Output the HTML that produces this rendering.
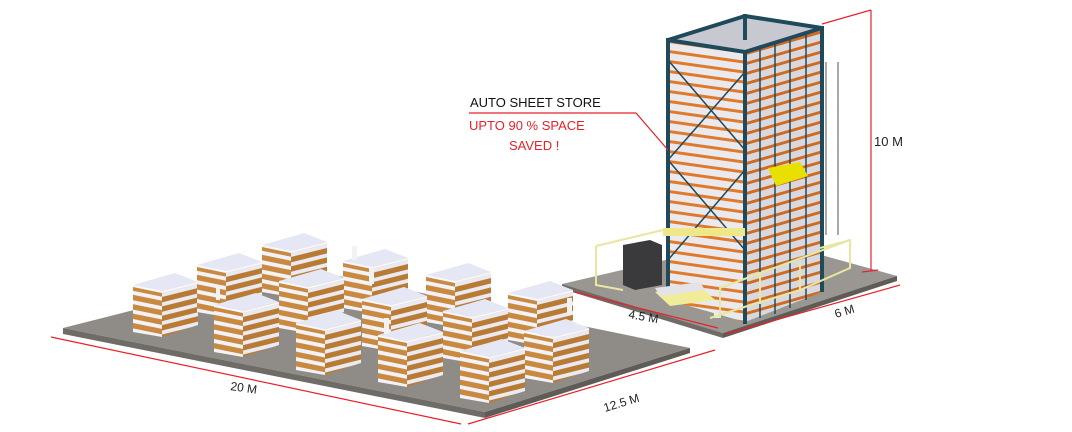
<!DOCTYPE html>
<html><head><meta charset="utf-8"><style>
html,body{margin:0;padding:0;background:#fff;width:1072px;height:432px;overflow:hidden}
svg{display:block}
text{font-family:"Liberation Sans",sans-serif}
</style></head><body>
<svg width="1072" height="432" viewBox="0 0 1072 432" xmlns="http://www.w3.org/2000/svg">
<defs>
<pattern id="stL" width="10" height="9.4" patternUnits="userSpaceOnUse" patternTransform="skewY(11.5)">
<rect width="10" height="9.4" fill="#f2f2f8"/><rect y="4" width="10" height="5.4" fill="#c98a40"/>
</pattern>
<pattern id="stR" width="10" height="9.4" patternUnits="userSpaceOnUse" patternTransform="skewY(-14)">
<rect width="10" height="9.4" fill="#eaeaf2"/><rect y="4" width="10" height="5.4" fill="#b97a34"/>
</pattern>
<pattern id="tw" width="10" height="10" patternUnits="userSpaceOnUse" patternTransform="skewY(8)">
<rect width="10" height="10" fill="#e9e9ee"/><rect y="6" width="10" height="3" fill="#e07a2a"/>
</pattern>
<pattern id="tw2" width="10" height="10" patternUnits="userSpaceOnUse" patternTransform="skewY(-16)">
<rect width="10" height="10" fill="#d8d8de"/><rect y="6" width="10" height="3" fill="#d06a20"/>
</pattern>
<g id="stk">
<polygon points="0,13 29,19 29,65 0,60" fill="url(#stL)"/>
<polygon points="29,19 65,10 65,53 29,65" fill="url(#stR)"/>
<polygon points="0,13 29,19 65,10 42,1" fill="#e6e7f4"/>
<polygon points="0,13 29,19 65,10 65,12 29,21 0,15" fill="#f8f8fc"/>
</g>
</defs>

<!-- big floor -->
<polygon points="63,328 485,412 690,348 300,268" fill="#8f8c88"/>
<polygon points="63,328 485,412 485,418 63,334" fill="#6f6c68"/>
<polygon points="485,412 690,348 690,353 485,418" fill="#5f5c58"/>

<!-- tower floor -->
<polygon points="562,284 723,333 897,276 760,238" fill="#9a9793"/>
<polygon points="562,284 723,333 723,338 562,289" fill="#6f6c68"/>
<polygon points="723,333 897,276 897,281 723,338" fill="#5f5c58"/>

<!-- pallet stacks -->
<use href="#stk" x="133" y="272"/>
<use href="#stk" x="197" y="252"/>
<use href="#stk" x="262" y="232"/>
<use href="#stk" x="343" y="248"/>
<use href="#stk" x="214" y="292"/>
<use href="#stk" x="279" y="268"/>
<use href="#stk" x="426" y="262"/>
<use href="#stk" x="362" y="286"/>
<use href="#stk" x="508" y="280"/>
<use href="#stk" x="296" y="310"/>
<use href="#stk" x="443" y="298"/>
<use href="#stk" x="378" y="322"/>
<use href="#stk" x="524" y="318"/>
<use href="#stk" x="460" y="338"/>

<!-- people -->
<g fill="#f2f2f2">
<rect x="352" y="246" width="5" height="14"/><rect x="369" y="268" width="5" height="16"/>
<rect x="216" y="288" width="4" height="12"/><rect x="384" y="318" width="5" height="16"/>
<rect x="567" y="298" width="5" height="16"/><rect x="714" y="290" width="6" height="28"/>
</g>

<!-- tower -->
<polygon points="668,40 745,52 822,28 745,16" fill="#c8c8d0"/>
<polygon points="668,40 745,52 745,322 668,300" fill="url(#tw)"/>
<polygon points="745,52 822,28 822,292 745,322" fill="url(#tw2)"/>
<g stroke="#1f4a5c" stroke-width="4" fill="none">
<line x1="668" y1="38" x2="668" y2="302"/><line x1="745" y1="50" x2="745" y2="324"/>
<line x1="822" y1="26" x2="822" y2="292"/><line x1="745" y1="14" x2="745" y2="40"/>
<polyline points="668,40 745,52 822,28 745,16 668,40"/>
</g>
<g stroke="#1f4a5c" stroke-width="1.5" fill="none">
<line x1="668" y1="60" x2="745" y2="150"/><line x1="745" y1="72" x2="668" y2="160"/>
<line x1="668" y1="160" x2="745" y2="250"/><line x1="745" y1="170" x2="668" y2="260"/>
<line x1="760" y1="48" x2="760" y2="318"/><line x1="775" y1="44" x2="775" y2="314"/>
<line x1="790" y1="40" x2="790" y2="308"/><line x1="806" y1="34" x2="806" y2="300"/>
</g>
<!-- ladder cage -->
<g stroke="#555" stroke-width="1" fill="none">
<line x1="826" y1="62" x2="826" y2="235"/><line x1="838" y1="62" x2="838" y2="235"/>
</g>
<!-- yellow arm -->
<polygon points="768,168 800,162 808,176 776,186" fill="#e8e000"/>
<rect x="663" y="228" width="82" height="8" fill="#efe88a"/>
<!-- cabinet -->
<polygon points="623,245 650,240 662,245 662,285 635,290 623,285" fill="#3a3a3c"/>
<!-- fence -->
<g stroke="#e8e6a0" stroke-width="2" fill="none">
<polyline points="596,246 596,285 623,290"/><line x1="596" y1="246" x2="663" y2="230"/>
<polyline points="710,318 760,302 800,290 850,268 850,240 820,248"/>
<line x1="720" y1="286" x2="720" y2="318"/><line x1="760" y1="272" x2="760" y2="304"/>
<line x1="800" y1="262" x2="800" y2="292"/><line x1="720" y1="288" x2="850" y2="240"/>
</g>
<polygon points="655,292 700,286 715,300 670,306" fill="#f0ec9a"/>
<polygon points="655,288 700,282 705,290 660,296" fill="#e3e3e8"/>

<!-- dimension lines -->
<g stroke="#e8212b" stroke-width="1.2" fill="none">
<line x1="51" y1="337" x2="461" y2="424"/>
<line x1="468" y1="424" x2="715" y2="350"/>
<line x1="575" y1="292" x2="718" y2="328"/>
<line x1="726" y1="334" x2="900" y2="285"/>
<line x1="871" y1="10" x2="871" y2="270"/>
<line x1="822" y1="24" x2="871" y2="10"/>
<line x1="862" y1="272" x2="878" y2="270"/>
<polyline points="469,113 636,113 668,150"/>
</g>

<!-- labels -->
<text x="470" y="107" font-size="13" fill="#111">AUTO SHEET STORE</text>
<text x="469" y="130" font-size="13" fill="#e8212b">UPTO 90 % SPACE</text>
<text x="509" y="150" font-size="13" fill="#e8212b">SAVED !</text>
<text x="874" y="146" font-size="13" fill="#222">10 M</text>
<text x="628" y="318" font-size="12" fill="#222" transform="rotate(10 628 318)">4.5 M</text>
<text x="836" y="318" font-size="12" fill="#222" transform="rotate(-17 836 318)">6 M</text>
<text x="230" y="390" font-size="12" fill="#222" transform="rotate(8 230 390)">20 M</text>
<text x="605" y="412" font-size="12" fill="#222" transform="rotate(-17 605 412)">12.5 M</text>
</svg>
</body></html>
